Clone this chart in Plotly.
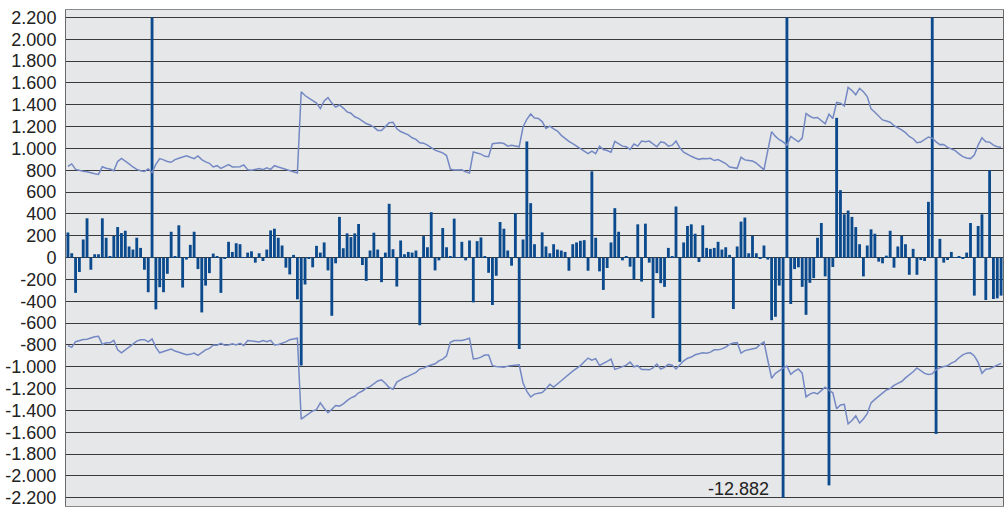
import numpy as np
import plotly.graph_objects as go

# ---------------- data ----------------
periods = list(range(1, 246))

bar_values = [
    230, 40, -323, -132, 166, 360, -111, 31, 31, 360,
    182, 15, 200, 280, 225, 246, 102, 74, 182, 89,
    -111, -317, 2200, -474, -271, -317, -148, 237, 15, 296,
    -274, -18, 117, 237, -105, -502, -256, -142, 37, 9,
    -323, -12, 145, 52, 132, 123, 3, 46, 58, -46,
    40, -31, 74, 249, 265, 182, 111, -92, -154, 25,
    -382, -988, -246, -12, -89, 108, 46, 139, -117, -533,
    -52, 373, 86, 222, 188, 222, 308, -68, -213, 65,
    228, 74, -225, 46, 493, 77, -265, 157, 31, 52,
    46, 65, -619, 197, 95, 416, -117, -25, 271, 95,
    9, 357, 3, 145, -25, 157, -410, 151, 185, 9,
    -139, -434, -166, 326, 265, 65, -74, 407, -837, 166,
    1064, 499, 123, 5, 231, 102, 40, 123, 74, 65,
    52, -120, 123, 139, 154, 160, -120, 790, 182, -126,
    -296, -95, 139, 453, 237, -25, 9, -83, -200, 305,
    -219, 311, -46, -554, -142, -234, -268, 89, 15, 468,
    -955, 139, 290, 305, 219, -40, 296, 89, 80, 89,
    145, 74, 95, 25, -471, 102, 330, 367, 40, 200,
    40, -12, 111, -18, -573, -542, -256, -12882, 2200, -425,
    -105, -89, -268, -524, -231, -188, 182, 317, -172, -2086,
    -86, 1280, 618, 397, 431, 373, 280, 123, -172, 111,
    259, 219, -37, -52, 18, 246, -92, 102, 200, 123,
    -157, 80, -157, -22, -31, 511, 2200, -1615, 172, -46,
    -22, 52, 3, 9, -9, 46, 317, -348, 290, 397,
    -388, 800, -379, -373, -348,
]

upper_band = [
    835, 858, 808, 798, 792, 787, 776, 768, 762, 832,
    818, 812, 796, 880, 908, 885, 858, 830, 808, 795,
    790, 812, 780, 855, 907, 895, 880, 873, 898, 910,
    923, 932, 919, 907, 932, 898, 877, 864, 830, 842,
    818, 836, 852, 830, 830, 832, 849, 806, 800, 808,
    815, 806, 822, 808, 842, 830, 820, 812, 800, 788,
    775, 1520, 1485, 1460, 1440, 1415, 1365, 1435, 1465, 1415,
    1378, 1398, 1370, 1335, 1323, 1290, 1275, 1250, 1228, 1215,
    1195, 1165, 1165, 1200, 1235, 1240, 1180, 1155, 1140, 1125,
    1098, 1083, 1052, 1048, 1030, 1005, 984, 972, 960, 935,
    810, 802, 800, 804, 787, 775, 968, 958, 948, 928,
    925, 1043, 1048, 1052, 1045, 1021, 1028, 1024, 1015, 1196,
    1267, 1316, 1279, 1274, 1246, 1184, 1205, 1180, 1159, 1120,
    1090, 1065, 1045, 1021, 995, 970, 953, 975, 953, 1021,
    990, 981, 965, 1064, 1043, 1021, 1015, 990, 1040, 1021,
    1067, 1061, 1067, 1045, 1015, 1061, 1052, 1021, 1030, 1067,
    1006, 965, 944, 928, 913, 900, 907, 905, 910, 889,
    898, 880, 862, 830, 823, 818, 919, 895, 890, 885,
    865, 836, 806, 980, 1154, 1110, 1080, 1060, 1030, 1110,
    1085, 1060, 1095, 1320, 1295, 1278, 1283, 1255, 1225, 1313,
    1274, 1421, 1415, 1390, 1560, 1530, 1492, 1550, 1520, 1475,
    1362, 1332, 1300, 1261, 1252, 1240, 1208, 1190, 1170, 1145,
    1110, 1089, 1052, 1058, 1083, 1105, 1095, 1060, 1035, 1036,
    1010, 998, 980, 950, 925, 912, 907, 940, 1030, 1098,
    1061, 1058, 1030, 1015, 1010,
]

lower_band = [
    -805, -822, -770, -757, -750, -748, -735, -725, -720, -795,
    -780, -780, -757, -845, -872, -848, -820, -792, -765, -752,
    -752, -772, -745, -822, -872, -858, -845, -837, -856, -866,
    -880, -890, -886, -874, -895, -868, -845, -832, -800, -803,
    -785, -803, -800, -790, -800, -785, -805, -760, -762, -768,
    -772, -760, -770, -758, -800, -795, -786, -772, -752, -742,
    -738, -1480, -1455, -1430, -1405, -1392, -1330, -1380, -1420, -1390,
    -1355, -1360, -1340, -1310, -1285, -1270, -1238, -1222, -1195, -1182,
    -1160, -1130, -1120, -1150, -1190, -1205, -1140, -1118, -1100, -1085,
    -1068, -1052, -1020, -1012, -995, -982, -972, -945, -930, -900,
    -775, -760, -760, -760, -750, -738, -928, -925, -912, -892,
    -892, -990, -998, -1003, -1003, -994, -990, -988, -982, -1148,
    -1225, -1277, -1250, -1243, -1235, -1203, -1160, -1185, -1160, -1128,
    -1098, -1066, -1040, -1015, -990, -954, -920, -940, -925, -988,
    -966, -950, -930, -1024, -1012, -995, -985, -956, -1000, -990,
    -1024, -1024, -1028, -1010, -975, -1020, -1005, -978, -985, -1020,
    -980, -945, -922, -911, -890, -880, -872, -875, -866, -845,
    -845, -836, -820, -794, -782, -779, -875, -852, -846, -840,
    -828, -796, -772, -940, -1105, -1060, -1035, -1012, -994, -1068,
    -1040, -1020, -1058, -1275, -1250, -1236, -1248, -1216, -1187, -1216,
    -1238, -1385, -1350, -1344, -1522, -1492, -1450, -1515, -1478, -1430,
    -1330, -1298, -1268, -1240, -1212, -1200, -1170, -1152, -1135, -1102,
    -1075, -1045, -1010, -1038, -1060, -1070, -1065, -1028, -1008, -998,
    -990, -966, -950, -917, -890, -875, -872, -900, -960, -1060,
    -1022, -1018, -1005, -985, -968,
]

tick_values = list(range(-2200, 2201, 200))
tick_labels = [f"{v:,}".replace(",", ".") for v in tick_values]

AXIS_LIMIT = 2200          # bars beyond the axis are cut at the limit
OFF_SCALE_PERIOD = 188     # the bar whose value is written on the chart

# ---------------- figure ----------------
shown_bars = np.clip(np.array(bar_values), -AXIS_LIMIT, AXIS_LIMIT)

fig = go.Figure()
fig.add_bar(x=periods, y=shown_bars, marker_color="#0b4a8c",
            marker_line_width=0, name="values")
fig.add_scatter(x=periods, y=upper_band, mode="lines",
                line=dict(color="#7489c3", width=1.5), name="upper")
fig.add_scatter(x=periods, y=lower_band, mode="lines",
                line=dict(color="#7489c3", width=1.5), name="lower")

off_val = bar_values[periods.index(OFF_SCALE_PERIOD)]
fig.add_annotation(x=OFF_SCALE_PERIOD, y=-2120,
                   text=f"{off_val:,}".replace(",", "."),
                   showarrow=False, xanchor="right", yanchor="middle",
                   xshift=-12,
                   font=dict(family="Liberation Sans, Arial, sans-serif",
                             size=18, color="#222222"))

fig.update_layout(
    width=1005, height=509,
    margin=dict(l=66, r=2, t=10, b=3),
    plot_bgcolor="#e6e7e9", paper_bgcolor="white",
    showlegend=False, bargap=0.26,
)
fig.update_xaxes(range=[0.5, 245.5], showticklabels=False, showgrid=False,
                 showline=True, linecolor="#8a8a8a", linewidth=1,
                 mirror=True, zeroline=False, ticks="")
fig.update_yaxes(range=[-2275, 2268], tickmode="array",
                 tickvals=tick_values, ticktext=tick_labels,
                 showgrid=True, gridcolor="#3a3a3a", gridwidth=1.3,
                 showline=True, linecolor="#6a6a6a", linewidth=1,
                 mirror=True, zeroline=False, ticks="",
                 ticklabelstandoff=5,
                 tickfont=dict(family="Liberation Sans, Arial, sans-serif",
                               size=18, color="#222222"))

fig.write_html("out.html", config={"displayModeBar": False},
               post_script="document.body.style.margin='0';")
